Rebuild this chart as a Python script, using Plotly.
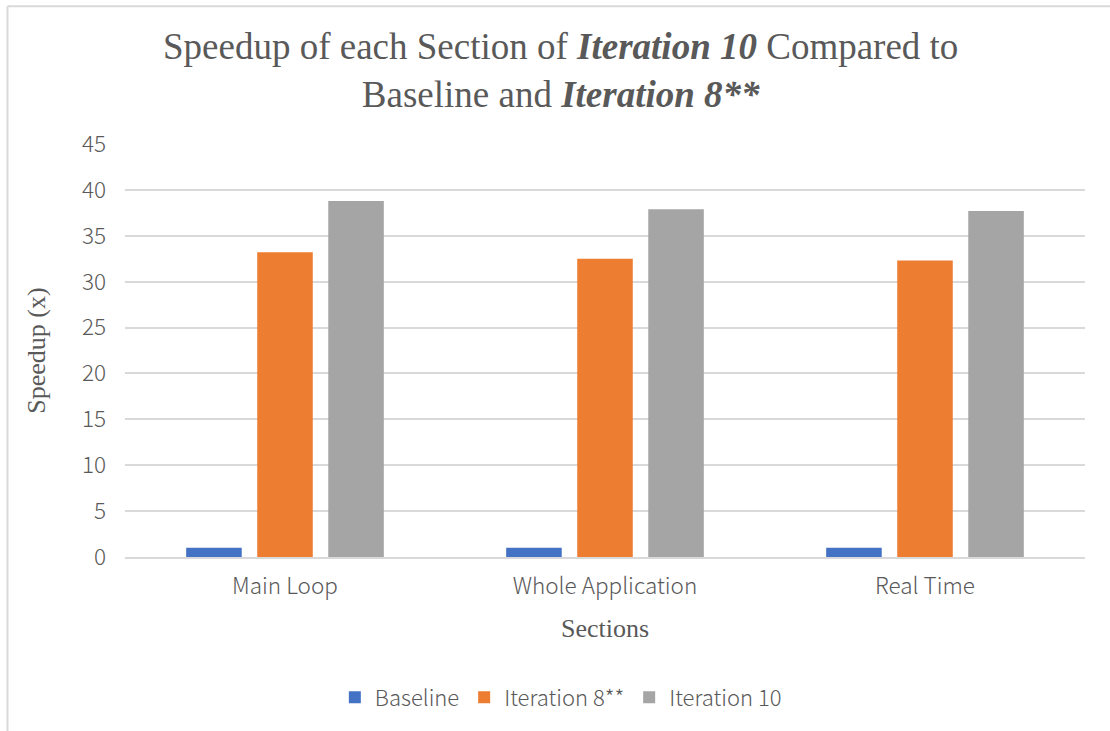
import plotly.graph_objects as go

sections = ["Main Loop", "Whole Application", "Real Time"]
baseline = [1.0, 1.0, 1.0]
iteration_8 = [33.2, 32.5, 32.3]
iteration_10 = [38.8, 37.9, 37.7]

series_names = ["Baseline", "Iteration 8**", "Iteration 10"]
series_colors = ["#4472C4", "#ED7D31", "#A5A5A5"]
y_ticks = [0, 5, 10, 15, 20, 25, 30, 35, 40, 45]

TEXT_GREY = "#595959"
GRID_GREY = "#D9D9D9"
SANS = "Noto Sans CJK SC Light, Noto Sans CJK SC, Open Sans, sans-serif"
SERIF = "Liberation Serif, Times New Roman, serif"

fig = go.Figure()
for name, vals, col in zip(series_names, [baseline, iteration_8, iteration_10], series_colors):
    fig.add_trace(go.Bar(name=name, x=sections, y=vals, marker_color=col,
                         marker_line_width=0))

tick_font = dict(family=SANS, size=22.5, color=TEXT_GREY, weight=300)
legend_font = dict(family=SANS, size=22, color=TEXT_GREY, weight=300)

fig.update_layout(
    width=1110, height=731,
    margin=dict(l=125, r=25, t=144, b=172),
    paper_bgcolor="white", plot_bgcolor="white",
    barmode="group", bargap=0.334, bargroupgap=0.218,
    xaxis=dict(
        tickfont=tick_font,
        showline=True, linecolor=GRID_GREY, linewidth=1.5,
        ticks="", ticklabelstandoff=8,
        title=dict(text="Sections", font=dict(family=SERIF, size=26, color=TEXT_GREY),
                   standoff=20),
    ),
    yaxis=dict(
        range=[0, 45], tickvals=y_ticks,
        tickfont=tick_font,
        showgrid=True, gridcolor=GRID_GREY, gridwidth=1.5,
        zeroline=False, showline=False, ticks="",
        ticklabelstandoff=18,
        title=dict(text="Speedup (x)", font=dict(family=SERIF, size=26, color=TEXT_GREY),
                   standoff=28),
    ),
    legend=dict(
        orientation="h", x=0.454, xanchor="center", y=-0.34, yanchor="middle",
        font=legend_font,
        itemwidth=30, traceorder="normal",
    ),
    annotations=[
        dict(
            text="Speedup of each Section of <b><i>Iteration 10</i></b> Compared to<br>"
                 "Baseline and <b><i>Iteration 8**</i></b>",
            xref="paper", yref="paper", x=0.454, y=1.178,
            xanchor="center", yanchor="middle", showarrow=False,
            font=dict(family=SERIF, size=37, color=TEXT_GREY),
        ),
    ],
    shapes=[
        dict(type="line", xref="paper", yref="paper", x0=-0.1224, x1=-0.1224,
             y0=1.3337, y1=-0.5, line=dict(color=GRID_GREY, width=2)),
        dict(type="line", xref="paper", yref="paper", x0=-0.1224, x1=1.05,
             y0=1.3337, y1=1.3337, line=dict(color=GRID_GREY, width=2)),
    ],
)

fig.write_html("out.html")
